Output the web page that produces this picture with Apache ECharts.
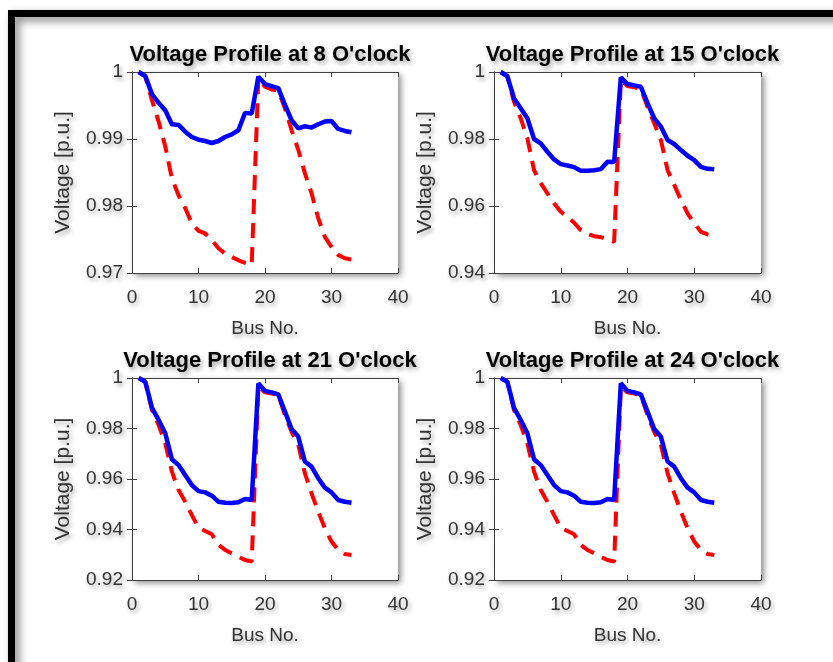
<!DOCTYPE html>
<html>
<head>
<meta charset="utf-8">
<script src="https://cdn.jsdelivr.net/npm/echarts@6/dist/echarts.min.js"></script>
<style>html,body{margin:0;padding:0;background:#fff;}#c{width:833px;height:662px;}</style>
</head>
<body>
<div id="c"></div>
<script>
const buses = [1,2,3,4,5,6,7,8,9,10,11,12,13,14,15,16,17,18,19,20,21,22,23,24,25,26,27,28,29,30,31,32,33];

const titles = ["Voltage Profile at 8 O'clock","Voltage Profile at 15 O'clock","Voltage Profile at 21 O'clock","Voltage Profile at 24 O'clock"];
const xTicks = [0,10,20,30,40];
const yMins = [0.97,0.94,0.92,0.92];
const yIntervals = [0.01,0.02,0.02,0.02];

const v8Solid = [1.0000,0.9994,0.9967,0.9954,0.9943,0.9922,0.9921,0.9911,0.9903,0.9899,0.9897,0.9894,0.9897,0.9903,0.9907,0.9913,0.9939,0.9938,0.9993,0.9982,0.9979,0.9976,0.9951,0.9928,0.9916,0.9919,0.9917,0.9922,0.9926,0.9927,0.9915,0.9912,0.9910];
const v8Dashed = [1.0000,0.9993,0.9958,0.9926,0.9889,0.9841,0.9816,0.9797,0.9774,0.9763,0.9759,0.9749,0.9737,0.9729,0.9724,0.9719,0.9715,0.9712,0.9991,0.9978,0.9974,0.9972,0.9946,0.9913,0.9884,0.9849,0.9819,0.9782,0.9754,0.9739,0.9727,0.9722,0.9720];

const v15Solid = [1.0000,0.9988,0.9921,0.9892,0.9862,0.9800,0.9787,0.9762,0.9739,0.9725,0.9721,0.9716,0.9705,0.9705,0.9707,0.9710,0.9732,0.9731,0.9984,0.9964,0.9960,0.9956,0.9907,0.9862,0.9837,0.9797,0.9785,0.9767,0.9750,0.9737,0.9717,0.9711,0.9710];
const v15Dashed = [1.0000,0.9986,0.9911,0.9862,0.9802,0.9707,0.9668,0.9638,0.9608,0.9583,0.9568,0.9550,0.9528,0.9516,0.9510,0.9507,0.9501,0.9493,0.9976,0.9958,0.9954,0.9950,0.9896,0.9847,0.9797,0.9707,0.9663,0.9618,0.9578,0.9548,0.9523,0.9515,0.9512];

const v21Solid = [1.0000,0.9985,0.9882,0.9834,0.9781,0.9678,0.9655,0.9616,0.9576,0.9552,0.9547,0.9534,0.9510,0.9506,0.9505,0.9508,0.9521,0.9517,0.9979,0.9949,0.9943,0.9935,0.9867,0.9798,0.9768,0.9669,0.9649,0.9603,0.9566,0.9547,0.9517,0.9510,0.9506];
const v21Dashed = [1.0000,0.9985,0.9873,0.9814,0.9741,0.9629,0.9556,0.9510,0.9457,0.9407,0.9394,0.9381,0.9339,0.9319,0.9306,0.9292,0.9279,0.9273,0.9966,0.9943,0.9938,0.9933,0.9853,0.9787,0.9735,0.9623,0.9543,0.9471,0.9405,0.9352,0.9319,0.9303,0.9299];

const v24Solid = [1.0000,0.9985,0.9882,0.9834,0.9781,0.9678,0.9655,0.9616,0.9576,0.9552,0.9547,0.9534,0.9510,0.9506,0.9505,0.9508,0.9521,0.9517,0.9979,0.9949,0.9943,0.9935,0.9867,0.9798,0.9768,0.9669,0.9649,0.9603,0.9566,0.9547,0.9517,0.9510,0.9506];
const v24Dashed = [1.0000,0.9985,0.9873,0.9814,0.9741,0.9629,0.9556,0.9510,0.9457,0.9407,0.9394,0.9381,0.9339,0.9319,0.9306,0.9292,0.9279,0.9273,0.9966,0.9943,0.9938,0.9933,0.9853,0.9787,0.9735,0.9623,0.9543,0.9471,0.9405,0.9352,0.9319,0.9303,0.9299];

const solidSets = [v8Solid, v15Solid, v21Solid, v24Solid];
const dashedSets = [v8Dashed, v15Dashed, v21Dashed, v24Dashed];

const grids = [
  {left:132, top:72, width:266, height:201},
  {left:494, top:72, width:267, height:201},
  {left:132, top:378, width:266, height:202},
  {left:494, top:378, width:267, height:202}
];

const shadowText = {textShadowColor:'rgba(0,0,0,0.35)', textShadowBlur:4, textShadowOffsetX:2, textShadowOffsetY:3};
const axisColor = '#404040';
const regular = "'Liberation Sans',Arial,sans-serif";

const option = {animation:false, backgroundColor:'#fff', title:[], grid:[], xAxis:[], yAxis:[], series:[],
  graphic:[{type:'rect', shape:{x:11.5, y:13.5, width:880, height:700}, z:100,
    style:{fill:'none', stroke:'#000', lineWidth:7, shadowColor:'rgba(0,0,0,0.5)', shadowBlur:9, shadowOffsetX:4, shadowOffsetY:4}}]
};

grids.forEach((g, i) => {
  option.grid.push(Object.assign({show:true, backgroundColor:'#fff', borderWidth:0,
    shadowColor:'rgba(0,0,0,0.45)', shadowBlur:6, shadowOffsetX:3, shadowOffsetY:3}, g));
  option.title.push({text:titles[i], left:g.left + g.width/2, top:g.top - 33, textAlign:'center',
    textStyle:Object.assign({fontFamily:regular, fontWeight:'bold', fontSize:22, color:'#000'}, shadowText)});
  const common = {gridIndex:i, axisLine:{show:true, lineStyle:{color:axisColor, width:1}},
    axisTick:{show:true, inside:true, length:5, lineStyle:{color:axisColor}}, splitLine:{show:false}};
  option.xAxis.push(Object.assign({type:'value', min:xTicks[0], max:xTicks[xTicks.length-1], interval:10, position:'bottom',
    name:'Bus No.', nameLocation:'middle', nameGap:46,
    nameTextStyle:Object.assign({fontFamily:regular, fontSize:19, color:'#333'}, shadowText),
    axisLabel:Object.assign({fontFamily:regular, fontSize:19, color:'#333', margin:15}, shadowText)}, common));
  option.xAxis.push(Object.assign({type:'value', min:xTicks[0], max:xTicks[xTicks.length-1], interval:10, position:'top',
    axisLabel:{show:false}}, common));
  option.yAxis.push(Object.assign({type:'value', min:yMins[i], max:1, interval:yIntervals[i], position:'left',
    name:'Voltage [p.u.]', nameLocation:'middle', nameGap:58,
    nameTextStyle:Object.assign({fontFamily:regular, fontSize:21, color:'#333'}, shadowText),
    axisLabel:Object.assign({fontFamily:regular, fontSize:19, color:'#333', margin:9,
      formatter:v => (Math.abs(v-1)<1e-9 ? '1' : String(+v.toFixed(2)))}, shadowText)}, common));
  option.yAxis.push(Object.assign({type:'value', min:yMins[i], max:1, interval:yIntervals[i], position:'right',
    axisLabel:{show:false}}, common));
  option.series.push({type:'line', xAxisIndex:2*i, yAxisIndex:2*i, showSymbol:false, symbol:'none',
    data:buses.map((b, k) => [b, dashedSets[i][k]]),
    lineStyle:{color:'#ff0000', width:4, type:[15,9]}, z:2});
  option.series.push({type:'line', xAxisIndex:2*i, yAxisIndex:2*i, showSymbol:false, symbol:'none',
    data:buses.map((b, k) => [b, solidSets[i][k]]),
    lineStyle:{color:'#0000ff', width:4.5}, z:3});
});

const chart = echarts.init(document.getElementById('c'), null, {renderer:'canvas'});
chart.setOption(option);
</script>
</body>
</html>
